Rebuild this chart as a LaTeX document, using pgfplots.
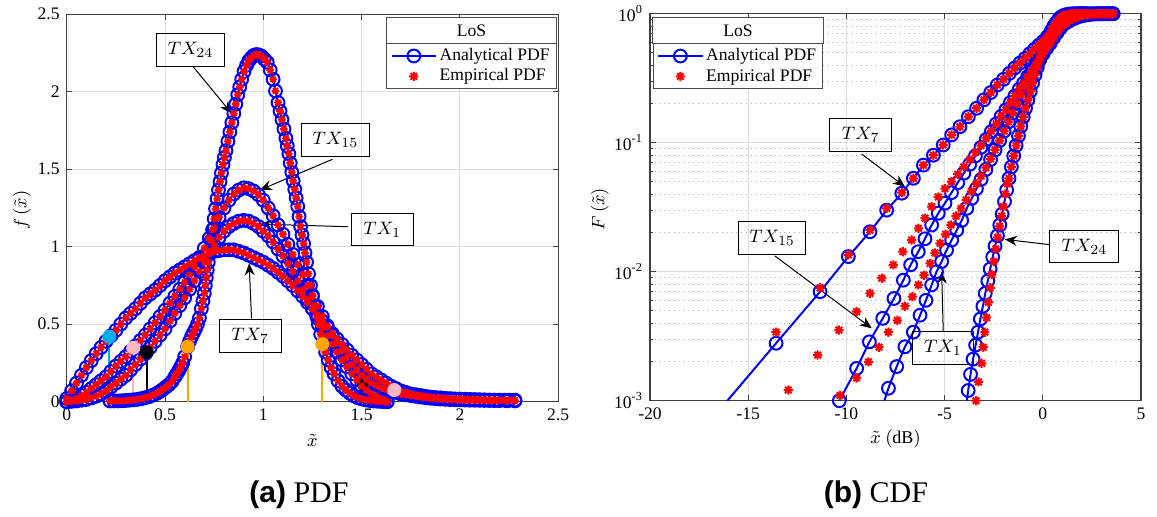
\documentclass[border=0pt]{standalone}
\usepackage{fontspec}
\setmainfont{Liberation Serif}
\newfontfamily\capsans{Liberation Sans}
\usepackage{pgfplots}
\usepackage{pgfplotstable}
\pgfplotsset{compat=1.18}
\usetikzlibrary{arrows.meta}
\definecolor{stpink}{RGB}{255,182,193}
\definecolor{storange}{RGB}{255,165,0}

\pgfdeclareplotmark{mstar}{%
  \pgfpathmoveto{\pgfpoint{-\pgfplotmarksize}{0pt}}\pgfpathlineto{\pgfpoint{\pgfplotmarksize}{0pt}}%
  \pgfpathmoveto{\pgfpoint{0pt}{-\pgfplotmarksize}}\pgfpathlineto{\pgfpoint{0pt}{\pgfplotmarksize}}%
  \pgfpathmoveto{\pgfpoint{-0.707\pgfplotmarksize}{-0.707\pgfplotmarksize}}\pgfpathlineto{\pgfpoint{0.707\pgfplotmarksize}{0.707\pgfplotmarksize}}%
  \pgfpathmoveto{\pgfpoint{-0.707\pgfplotmarksize}{0.707\pgfplotmarksize}}\pgfpathlineto{\pgfpoint{0.707\pgfplotmarksize}{-0.707\pgfplotmarksize}}%
  \pgfusepathqstroke}

% ---------- PDF data (x, f) ----------
\pgfplotstableread{
x y
0.000 0.02
0.025 0.07
0.050 0.12
0.075 0.17
0.100 0.22
0.125 0.265
0.150 0.31
0.175 0.35
0.200 0.39
0.225 0.425
0.250 0.46
0.275 0.50
0.300 0.54
0.325 0.57
0.350 0.60
0.375 0.635
0.400 0.67
0.425 0.695
0.450 0.72
0.475 0.75
0.500 0.78
0.525 0.805
0.550 0.83
0.575 0.85
0.600 0.87
0.625 0.89
0.650 0.91
0.675 0.925
0.700 0.94
0.725 0.955
0.750 0.97
0.775 0.975
0.800 0.98
0.825 0.98
0.850 0.98
0.875 0.97
0.900 0.96
0.925 0.945
0.950 0.93
0.975 0.915
1.000 0.90
1.025 0.88
1.050 0.86
1.075 0.835
1.100 0.81
1.125 0.78
1.150 0.75
1.175 0.715
1.200 0.68
1.225 0.64
1.250 0.60
1.275 0.56
1.300 0.52
1.325 0.48
1.350 0.44
1.375 0.405
1.400 0.37
1.425 0.335
1.450 0.30
1.475 0.27
1.500 0.24
1.525 0.21
1.550 0.18
1.575 0.16
1.600 0.14
1.625 0.12
1.650 0.10
1.675 0.085
1.700 0.07
1.725 0.06
1.750 0.05
1.775 0.045
1.800 0.04
1.825 0.035
1.850 0.03
1.875 0.027
1.900 0.025
1.925 0.022
1.950 0.02
1.975 0.018
2.000 0.017
2.025 0.016
2.050 0.015
2.075 0.014
2.100 0.013
2.125 0.012
2.150 0.011
2.175 0.0105
2.200 0.010
2.225 0.010
2.250 0.010
2.280 0.010
}\pdfSeven

\pgfplotstableread{
x y
0.000 0.00
0.025 0.01
0.050 0.02
0.075 0.04
0.100 0.06
0.125 0.085
0.150 0.11
0.175 0.135
0.200 0.16
0.225 0.195
0.250 0.23
0.275 0.26
0.300 0.29
0.325 0.325
0.350 0.36
0.375 0.395
0.400 0.43
0.425 0.47
0.450 0.51
0.475 0.55
0.500 0.59
0.525 0.635
0.550 0.68
0.575 0.725
0.600 0.77
0.625 0.82
0.650 0.87
0.675 0.93
0.700 0.99
0.725 1.055
0.750 1.12
0.775 1.19
0.800 1.25
0.825 1.30
0.850 1.34
0.875 1.365
0.900 1.38
0.925 1.375
0.950 1.36
0.975 1.335
1.000 1.30
1.025 1.25
1.050 1.20
1.075 1.14
1.100 1.08
1.125 1.015
1.150 0.95
1.175 0.885
1.200 0.82
1.225 0.75
1.250 0.68
1.275 0.615
1.300 0.55
1.325 0.49
1.350 0.43
1.375 0.38
1.400 0.33
1.425 0.285
1.450 0.24
1.475 0.205
1.500 0.17
1.525 0.145
1.550 0.12
1.575 0.105
1.600 0.09
1.625 0.08
1.650 0.07
1.675 0.06
1.700 0.05
1.725 0.045
1.750 0.04
1.775 0.035
1.800 0.03
1.825 0.026
1.850 0.022
1.875 0.02
1.900 0.017
1.925 0.0155
1.950 0.014
1.975 0.013
2.000 0.012
2.025 0.011
2.050 0.010
2.075 0.0095
2.100 0.009
2.125 0.0085
2.150 0.008
2.175 0.0075
2.200 0.007
2.240 0.006
2.280 0.005
}\pdfFifteen

\pgfplotstableread{
x y
0.000 0.00
0.025 0.002
0.050 0.005
0.075 0.01
0.100 0.015
0.125 0.025
0.150 0.035
0.175 0.05
0.200 0.07
0.225 0.095
0.250 0.12
0.275 0.145
0.300 0.17
0.325 0.205
0.350 0.24
0.375 0.275
0.400 0.31
0.425 0.35
0.450 0.39
0.475 0.43
0.500 0.47
0.525 0.52
0.550 0.57
0.575 0.62
0.600 0.67
0.625 0.725
0.650 0.78
0.675 0.84
0.700 0.90
0.725 0.955
0.750 1.01
0.775 1.06
0.800 1.10
0.825 1.13
0.850 1.15
0.875 1.165
0.900 1.17
0.925 1.165
0.950 1.15
0.975 1.13
1.000 1.10
1.025 1.07
1.050 1.03
1.075 0.985
1.100 0.94
1.125 0.89
1.150 0.84
1.175 0.78
1.200 0.72
1.225 0.66
1.250 0.60
1.275 0.54
1.300 0.48
1.325 0.425
1.350 0.37
1.375 0.32
1.400 0.27
1.425 0.225
1.450 0.18
1.475 0.14
1.500 0.10
1.525 0.075
1.550 0.05
1.575 0.035
1.600 0.02
1.615 0.01
1.630 0.00
}\pdfOne

\pgfplotstableread{
x y
0.220 0.005
0.240 0.005
0.260 0.005
0.280 0.006
0.300 0.008
0.320 0.010
0.340 0.012
0.360 0.015
0.380 0.02
0.400 0.026
0.420 0.033
0.440 0.043
0.460 0.055
0.475 0.067
0.490 0.08
0.505 0.095
0.520 0.11
0.535 0.13
0.550 0.16
0.560 0.18
0.570 0.20
0.580 0.225
0.590 0.25
0.600 0.29
0.615 0.355
0.625 0.39
0.635 0.42
0.645 0.445
0.655 0.47
0.665 0.50
0.675 0.54
0.685 0.60
0.693 0.65
0.700 0.70
0.705 0.75
0.710 0.80
0.715 0.85
0.720 0.90
0.727 0.97
0.735 1.04
0.742 1.11
0.750 1.18
0.757 1.245
0.765 1.31
0.772 1.365
0.780 1.42
0.787 1.475
0.795 1.53
0.802 1.575
0.810 1.62
0.820 1.68
0.830 1.74
0.840 1.80
0.850 1.86
0.860 1.92
0.870 1.98
0.880 2.03
0.890 2.08
0.902 2.13
0.915 2.17
0.927 2.20
0.940 2.22
0.952 2.235
0.965 2.24
0.977 2.237
0.990 2.23
1.005 2.21
1.020 2.19
1.035 2.14
1.050 2.08
1.062 2.005
1.075 1.93
1.085 1.875
1.095 1.82
1.105 1.76
1.115 1.70
1.122 1.65
1.130 1.60
1.137 1.54
1.145 1.48
1.152 1.425
1.160 1.37
1.167 1.315
1.175 1.26
1.182 1.195
1.190 1.13
1.197 1.075
1.205 1.02
1.212 0.96
1.220 0.90
1.230 0.825
1.240 0.75
1.250 0.685
1.260 0.62
1.270 0.56
1.280 0.50
1.292 0.435
1.305 0.375
1.317 0.32
1.330 0.27
1.345 0.22
1.360 0.18
1.380 0.135
1.400 0.10
1.420 0.075
1.440 0.055
1.460 0.038
1.480 0.026
1.500 0.018
1.520 0.012
1.540 0.008
1.560 0.005
1.580 0.003
1.600 0.002
1.615 0.001
1.630 0.00
}\pdfTwentyFour

% ---------- CDF data (x in dB, F) ----------
\pgfplotstableread{
x y
-13.58 0.00279
-11.34 0.0070
-9.90 0.0131
-8.80 0.0204
-7.95 0.0300
-7.18 0.0406
-6.59 0.053
-6.08 0.067
-5.57 0.080
-5.07 0.096
-4.64 0.115
-4.22 0.133
-3.79 0.159
-3.37 0.185
-3.00 0.215
-2.65 0.245
-2.32 0.28
-2.00 0.31
-1.70 0.345
-1.43 0.38
-1.16 0.415
-0.90 0.45
-0.66 0.49
-0.42 0.53
-0.20 0.57
0.02 0.61
0.23 0.66
0.43 0.70
0.63 0.74
0.82 0.78
1.00 0.82
1.18 0.85
1.35 0.88
1.52 0.91
1.68 0.93
1.84 0.95
2.00 0.965
2.15 0.975
2.30 0.983
2.45 0.99
2.60 0.994
2.75 0.997
2.90 0.998
3.05 0.999
3.20 1.0
3.35 1.0
3.50 1.0
3.58 1.0
}\cdfSevenA

\pgfplotstableread{
x y
-13.58 0.0034
-11.34 0.0075
-9.90 0.0135
-8.80 0.021
-7.95 0.031
-7.18 0.041
-6.59 0.053
-6.08 0.067
-5.57 0.080
-5.07 0.096
-4.64 0.115
-4.22 0.133
-3.79 0.159
-3.37 0.185
-3.00 0.215
-2.65 0.245
-2.32 0.28
-2.00 0.31
-1.70 0.345
-1.43 0.38
-1.16 0.415
-0.90 0.45
-0.66 0.49
-0.42 0.53
-0.20 0.57
0.02 0.61
0.23 0.66
0.43 0.70
0.63 0.74
0.82 0.78
1.00 0.82
1.18 0.85
1.35 0.88
1.52 0.91
1.68 0.93
1.84 0.95
2.00 0.965
2.15 0.975
2.30 0.983
2.45 0.99
2.60 0.994
2.75 0.997
2.90 0.998
3.05 0.999
3.20 1.0
3.35 1.0
3.50 1.0
3.58 1.0
}\cdfSevenE

\pgfplotstableread{
x y
-10.36 0.0010
-9.48 0.00178
-8.83 0.00286
-8.15 0.00435
-7.58 0.0062
-7.10 0.0086
-6.73 0.0113
-6.34 0.0143
-6.00 0.018
-5.66 0.023
-5.32 0.0284
-4.98 0.034
-4.65 0.041
-4.33 0.049
-4.02 0.058
-3.72 0.068
-3.43 0.079
-3.15 0.092
-2.88 0.106
-2.62 0.122
-2.37 0.14
-2.12 0.16
-1.88 0.18
-1.65 0.205
-1.42 0.23
-1.20 0.26
-0.98 0.29
-0.77 0.325
-0.56 0.36
-0.36 0.40
-0.17 0.44
0.02 0.49
0.20 0.54
0.38 0.59
0.55 0.65
0.72 0.71
0.89 0.77
1.05 0.83
1.20 0.88
1.35 0.92
1.50 0.95
1.65 0.97
1.80 0.985
1.95 0.993
2.10 0.997
2.25 0.999
2.40 1.0
2.55 1.0
2.70 1.0
2.85 1.0
3.00 1.0
3.15 1.0
3.30 1.0
3.45 1.0
3.58 1.0
}\cdfFifteenA

\pgfplotstableread{
x y
-12.96 0.00121
-11.46 0.00226
-10.38 0.00353
-9.48 0.0049
-8.80 0.0068
-8.20 0.0089
-7.61 0.0113
-7.13 0.0143
-6.68 0.0176
-6.33 0.0217
-6.00 0.026
-5.66 0.032
-5.32 0.038
-4.98 0.044
-4.65 0.050
-4.33 0.057
-4.02 0.065
-3.72 0.074
-3.43 0.084
-3.15 0.095
-2.88 0.108
-2.62 0.123
-2.37 0.14
-2.12 0.16
-1.88 0.18
-1.65 0.205
-1.42 0.23
-1.20 0.26
-0.98 0.29
-0.77 0.325
-0.56 0.36
-0.36 0.40
-0.17 0.44
0.02 0.49
0.20 0.54
0.38 0.59
0.55 0.65
0.72 0.71
0.89 0.77
1.05 0.83
1.20 0.88
1.35 0.92
1.50 0.95
1.65 0.97
1.80 0.985
1.95 0.993
2.10 0.997
2.25 0.999
2.40 1.0
2.55 1.0
2.70 1.0
2.85 1.0
3.00 1.0
3.15 1.0
3.30 1.0
3.45 1.0
3.58 1.0
}\cdfFifteenE

\pgfplotstableread{
x y
-7.86 0.00125
-7.44 0.00184
-7.02 0.00262
-6.59 0.0034
-6.25 0.0046
-5.95 0.0060
-5.66 0.0079
-5.41 0.0100
-5.15 0.0120
-4.90 0.0147
-4.64 0.0176
-4.38 0.021
-4.13 0.025
-3.87 0.031
-3.62 0.037
-3.38 0.044
-3.14 0.052
-2.90 0.062
-2.66 0.074
-2.43 0.088
-2.20 0.104
-1.97 0.123
-1.75 0.145
-1.53 0.17
-1.31 0.20
-1.10 0.235
-0.89 0.275
-0.68 0.32
-0.48 0.37
-0.28 0.42
-0.09 0.48
0.10 0.54
0.28 0.60
0.46 0.67
0.64 0.74
0.81 0.80
0.98 0.86
1.14 0.91
1.30 0.95
1.46 0.975
1.62 0.99
1.78 0.997
1.95 1.0
2.12 1.0
}\cdfOneA

\pgfplotstableread{
x y
-10.33 0.0011
-9.48 0.0015
-8.88 0.0020
-8.34 0.0026
-7.86 0.0034
-7.41 0.0042
-7.02 0.0054
-6.64 0.0064
-6.33 0.0079
-6.05 0.0094
-5.74 0.0116
-5.49 0.0140
-5.23 0.0166
-4.95 0.0195
-4.68 0.023
-4.42 0.027
-4.16 0.031
-3.90 0.036
-3.64 0.042
-3.38 0.048
-3.14 0.055
-2.90 0.064
-2.66 0.075
-2.43 0.088
-2.20 0.104
-1.97 0.123
-1.75 0.145
-1.53 0.17
-1.31 0.20
-1.10 0.235
-0.89 0.275
-0.68 0.32
-0.48 0.37
-0.28 0.42
-0.09 0.48
0.10 0.54
0.28 0.60
0.46 0.67
0.64 0.74
0.81 0.80
0.98 0.86
1.14 0.91
1.30 0.95
1.46 0.975
1.62 0.99
1.78 0.997
1.95 1.0
2.12 1.0
}\cdfOneE

\pgfplotstableread{
x y
-3.80 0.0012
-3.68 0.0016
-3.55 0.0021
-3.42 0.0027
-3.30 0.0034
-3.18 0.0043
-3.05 0.0054
-2.93 0.0068
-2.80 0.0085
-2.68 0.0105
-2.55 0.013
-2.43 0.0158
-2.31 0.019
-2.19 0.023
-2.07 0.028
-1.95 0.035
-1.84 0.043
-1.72 0.053
-1.60 0.065
-1.48 0.079
-1.36 0.095
-1.24 0.113
-1.12 0.134
-1.00 0.158
-0.88 0.185
-0.76 0.215
-0.64 0.25
-0.52 0.29
-0.40 0.335
-0.28 0.385
-0.16 0.44
-0.04 0.50
0.08 0.56
0.20 0.62
0.32 0.68
0.44 0.74
0.56 0.80
0.68 0.85
0.80 0.90
0.92 0.94
1.04 0.965
1.16 0.98
1.28 0.99
1.40 0.996
1.55 0.999
1.70 1.0
1.85 1.0
2.00 1.0
2.12 1.0
}\cdfTwentyFourA

\pgfplotstableread{
x y
-3.40 0.0010
-3.28 0.0014
-3.11 0.00195
-3.03 0.0026
-2.95 0.0034
-2.86 0.0044
-2.77 0.0058
-2.68 0.0075
-2.60 0.0095
-2.50 0.012
-2.40 0.015
-2.30 0.0185
-2.20 0.0225
-2.10 0.027
-2.01 0.032
-1.90 0.040
-1.80 0.048
-1.72 0.053
-1.60 0.065
-1.48 0.079
-1.36 0.095
-1.24 0.113
-1.12 0.134
-1.00 0.158
-0.88 0.185
-0.76 0.215
-0.64 0.25
-0.52 0.29
-0.40 0.335
-0.28 0.385
-0.16 0.44
-0.04 0.50
0.08 0.56
0.20 0.62
0.32 0.68
0.44 0.74
0.56 0.80
0.68 0.85
0.80 0.90
0.92 0.94
1.04 0.965
1.16 0.98
1.28 0.99
1.40 0.996
1.55 0.999
1.70 1.0
1.85 1.0
2.00 1.0
2.12 1.0
}\cdfTwentyFourE

\pgfplotsset{
  anal/.style={blue, line width=1pt, mark=o, mark size=3.2pt,
    mark options={solid, line width=1pt},
    legend image code/.code={\draw[mark repeat=2,mark phase=2,##1] plot coordinates {(0cm,0cm) (0.39cm,0cm) (0.78cm,0cm)};}},
  emp/.style={red, only marks, mark=mstar, mark size=2.3pt,
    mark options={solid, line width=1pt},
    legend image code/.code={\draw[mark repeat=2,mark phase=2,##1] plot coordinates {(0cm,0cm) (0.39cm,0cm) (0.78cm,0cm)};}},
  empP/.style={red, only marks, mark=mstar, mark size=1.9pt,
    mark options={solid, line width=0.9pt}},
  mystyle/.style={scale only axis,
    axis line style={black!75, line width=0.6pt},
    tick style={black!75, line width=0.5pt},
    major tick length=2.8pt, minor tick length=1.6pt,
    major grid style={black!13, line width=0.5pt},
    tick label style={font=\fontsize{8.8}{10}\selectfont},
    label style={font=\fontsize{9}{10}\selectfont},
    /pgf/number format/assume math mode=true,
    legend style={font=\fontsize{8.8}{10}\selectfont, draw=black!70, line width=0.5pt,
      fill=white, inner xsep=2pt, inner ysep=1pt, nodes={inner sep=1.3pt}},
    legend cell align=left}
}
\tikzset{
  lbl/.style={draw=black, line width=0.5pt, inner sep=0pt, font=\fontsize{9.5}{10}\selectfont},
  arr/.style={black, line width=0.5pt, -{Stealth[length=6pt, width=5pt]}}
}

\begin{document}
\begin{tikzpicture}
% ================= (a) PDF =================
\begin{axis}[mystyle, at={(33.35pt,57.15pt)}, anchor=south west,
  width=245.75pt, height=193.75pt,
  xmin=0, xmax=2.5, ymin=0, ymax=2.5,
  xtick={0,0.5,1,1.5,2,2.5}, ytick={0,0.5,1,1.5,2,2.5},
  grid=major,
  xlabel={$\tilde{x}$}, ylabel={$f\left(\tilde{x}\right)$},
  xlabel style={at={(axis description cs:0.5,-0.099)}, anchor=center},
  ylabel style={at={(axis description cs:-0.091,0.495)}, anchor=center},
  legend style={at={(axis description cs:0.997,0.925)}, anchor=north east, name=legL}]
\addlegendimage{anal}\addlegendentry{Analytical PDF}
\addlegendimage{emp}\addlegendentry{Empirical PDF}
\addplot[anal, forget plot] table[x=x,y=y] {\pdfSeven};
\addplot[anal, forget plot] table[x=x,y=y] {\pdfFifteen};
\addplot[anal, forget plot] table[x=x,y=y] {\pdfOne};
\addplot[anal, forget plot] table[x=x,y=y] {\pdfTwentyFour};
\addplot[ycomb, draw=black, line width=1pt, mark=*, mark size=2.2pt, mark options={fill=black}, forget plot] coordinates {(1.503,0.11)};
\addplot[empP, forget plot] table[x=x,y=y] {\pdfSeven};
\addplot[empP, forget plot] table[x=x,y=y] {\pdfFifteen};
\addplot[empP, forget plot] table[x=x,y=y] {\pdfOne};
\addplot[empP, forget plot] table[x=x,y=y] {\pdfTwentyFour};
\addplot[ycomb, draw=cyan, line width=1pt, mark=*, mark size=3pt, mark options={fill=cyan}, forget plot] coordinates {(0.217,0.419)};
\addplot[ycomb, draw=stpink, line width=1pt, mark=*, mark size=3pt, mark options={fill=stpink}, forget plot] coordinates {(0.339,0.348) (1.666,0.075)};
\addplot[ycomb, draw=black, line width=1pt, mark=*, mark size=3pt, mark options={fill=black}, forget plot] coordinates {(0.407,0.319)};
\addplot[ycomb, draw=storange, line width=1pt, mark=*, mark size=3pt, mark options={fill=storange}, forget plot] coordinates {(0.615,0.355) (1.30,0.372)};
\node[lbl, minimum width=33.8pt, minimum height=16.7pt] at (axis cs:0.63,2.27) {$TX_{24}$};
\draw[arr] (axis cs:0.644,2.16) -- (axis cs:0.839,1.86);
\node[lbl, minimum width=33.8pt, minimum height=16.3pt] at (axis cs:1.367,1.69) {$TX_{15}$};
\draw[arr] (axis cs:1.352,1.564) -- (axis cs:0.983,1.366);
\node[lbl, minimum width=30.8pt, minimum height=16.3pt] at (axis cs:1.605,1.11) {$TX_{1}$};
\draw[arr] (axis cs:1.432,1.129) -- (axis cs:0.983,1.146);
\node[lbl, minimum width=30.9pt, minimum height=16.5pt] at (axis cs:0.933,0.425) {$TX_{7}$};
\draw[arr] (axis cs:0.94,0.538) -- (axis cs:0.928,0.893);
\end{axis}
\draw[black!70, line width=0.5pt, fill=white] (legL.north west) rectangle ([yshift=13pt]legL.north east);
\node[font=\fontsize{8.8}{10}\selectfont] at ([yshift=6.5pt]legL.north) {LoS};

% ================= (b) CDF =================
\begin{axis}[mystyle, at={(325pt,57.65pt)}, anchor=south west,
  width=245.5pt, height=193.5pt,
  xmin=-20, xmax=5, ymode=log, ymin=1e-3, ymax=1,
  xtick={-20,-15,-10,-5,0,5}, ytick={0.001,0.01,0.1,1},
  yticklabels={10\textsuperscript{-3},10\textsuperscript{-2},10\textsuperscript{-1},10\textsuperscript{0}},
  xmajorgrids=true, ymajorgrids=true, yminorgrids=true,
  minor grid style={black!30, dotted, line width=0.5pt},
  xlabel={$\tilde{x}$~$(\mathrm{dB})$}, ylabel={$F\left(\tilde{x}\right)$},
  xlabel style={at={(axis description cs:0.5,-0.099)}, anchor=center},
  ylabel style={at={(axis description cs:-0.102,0.495)}, anchor=center},
  legend style={at={(axis description cs:0.0055,0.9235)}, anchor=north west, name=legR}]
\addlegendimage{anal}\addlegendentry{Analytical PDF}
\addlegendimage{emp}\addlegendentry{Empirical PDF}
\addplot[blue, line width=1pt, forget plot] coordinates {(-18.6,0.00035) (-13.58,0.00279)};
\addplot[blue, line width=1pt, forget plot] coordinates {(-8.4,0.0007) (-7.86,0.00125)};
\addplot[blue, line width=1pt, forget plot] coordinates {(-4.0,0.0007) (-3.80,0.0012)};
\addplot[anal, forget plot] table[x=x,y=y] {\cdfSevenA};
\addplot[anal, forget plot] table[x=x,y=y] {\cdfFifteenA};
\addplot[anal, forget plot] table[x=x,y=y] {\cdfOneA};
\addplot[anal, forget plot] table[x=x,y=y] {\cdfTwentyFourA};
\addplot[emp, forget plot] table[x=x,y=y] {\cdfSevenE};
\addplot[emp, forget plot] table[x=x,y=y] {\cdfFifteenE};
\addplot[emp, forget plot] table[x=x,y=y] {\cdfOneE};
\addplot[emp, forget plot] table[x=x,y=y] {\cdfTwentyFourE};
\node[lbl, minimum width=30.8pt, minimum height=16.7pt] at (axis cs:-9.27,0.115) {$TX_{7}$};
\draw[arr] (axis cs:-9.22,0.0817) -- (axis cs:-7.02,0.0456);
\node[lbl, minimum width=33.8pt, minimum height=16.2pt] at (axis cs:-13.78,0.0183) {$TX_{15}$};
\draw[arr] (axis cs:-13.64,0.01325) -- (axis cs:-8.71,0.00364);
\node[lbl, minimum width=30.3pt, minimum height=16.2pt] at (axis cs:-5.08,0.00257) {$TX_{1}$};
\draw[arr] (axis cs:-5.07,0.00347) -- (axis cs:-5.15,0.0100);
\node[lbl, minimum width=34.5pt, minimum height=16pt] at (axis cs:2.12,0.0156) {$TX_{24}$};
\draw[arr] (axis cs:0.37,0.0162) -- (axis cs:-1.93,0.0178);
\end{axis}
\draw[black!70, line width=0.5pt, fill=white] (legR.north west) rectangle ([yshift=13pt]legR.north east);
\node[font=\fontsize{8.8}{10}\selectfont] at ([yshift=6.5pt]legR.north) {LoS};

% captions
\node[anchor=base, inner sep=0pt] at (149.5pt,7pt) {\fontsize{15}{18}\selectfont{\capsans\bfseries (a)} PDF};
\node[anchor=base, inner sep=0pt] at (438pt,7pt) {\fontsize{15}{18}\selectfont{\capsans\bfseries (b)} CDF};

\pgfresetboundingbox
\path (0pt,0pt) rectangle (578.5pt,258pt);
\end{tikzpicture}
\end{document}
